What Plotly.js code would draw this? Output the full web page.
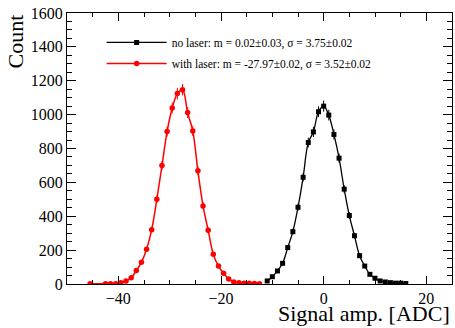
<!DOCTYPE html>
<html>
<head>
<meta charset="utf-8">
<script src="https://cdn.plot.ly/plotly-3.0.1.min.js"></script>
<style>
  html, body { margin: 0; padding: 0; background: #fff; }
  #chart { width: 455px; height: 328px; }
</style>
</head>
<body>
<div id="chart"></div>
<script>
// ---- Data (bin centres in ADC, counts) ----
const noLaserX = [-11, -10, -9, -8, -7, -6, -5, -4, -3, -2, -1, 0, 1, 2, 3, 4, 5, 6, 7, 8, 9, 10, 11, 12, 13, 14, 15, 16];
const noLaserY = [18, 43, 77, 122, 215, 309, 453, 630, 835, 898, 1017, 1050, 997, 883, 743, 560, 404, 285, 167, 106, 57, 34, 18, 12, 8, 5, 5, 3];

const laserX = [-45.5, -42.5, -41.5, -40.5, -39.5, -38.5, -37.5, -36.5, -35.5, -34.5, -33.5, -32.5, -31.5, -30.5, -29.5, -28.5, -27.5, -26.5, -25.5, -24.5, -23.5, -22.5, -21.5, -20.5, -19.5, -18.5, -17.5, -16.5, -15.5, -14.5, -13.5, -12.5];
const laserY = [1, 1, 1, 2, 8, 18, 37, 79, 128, 205, 321, 500, 699, 900, 1039, 1124, 1147, 1012, 904, 668, 461, 317, 175, 106, 63, 30, 12, 8, 5, 4, 3, 2];

const noLaserLabel = "no laser: m = 0.02±0.03, σ = 3.75±0.02";
const laserLabel = "with laser: m = -27.97±0.02, σ = 3.52±0.02";

const xTitle = "Signal amp. [ADC]";
const yTitle = "Count";

const serif = "Liberation Serif";

const traces = [
  {
    x: noLaserX, y: noLaserY,
    type: "scatter", mode: "lines+markers",
    name: noLaserLabel, legendgroup: "a",
    line: { color: "#000000", width: 1.3, shape: "spline", smoothing: 1 },
    marker: { color: "#000000", symbol: "square", size: 5 },
    error_y: { type: "sqrt", visible: true, color: "#000000", thickness: 1, width: 0 }
  },
  {
    x: laserX, y: laserY,
    type: "scatter", mode: "lines+markers",
    name: laserLabel, legendgroup: "b",
    line: { color: "#ff0000", width: 1.5, shape: "spline", smoothing: 1 },
    marker: { color: "#ff0000", symbol: "circle", size: 5.5 },
    error_y: { type: "sqrt", visible: true, color: "#ff0000", thickness: 1, width: 0 }
  }
];

const axisCommon = {
  showline: true, linecolor: "#000", linewidth: 1, mirror: "allticks",
  ticks: "inside", tickcolor: "#000", tickwidth: 1,
  showgrid: false, zeroline: false,
  tickfont: { family: serif, size: 16, color: "#000" }
};

const layout = {
  width: 455, height: 328,
  font: { family: serif, color: "#000" },
  margin: { l: 67, r: 3, t: 13, b: 44, pad: 0 },
  paper_bgcolor: "#fff", plot_bgcolor: "#fff",
  showlegend: true,
  legend: {
    x: 0.09, y: 0.945, xanchor: "left", yanchor: "top",
    bgcolor: "rgba(255,255,255,0)", borderwidth: 0,
    font: { family: serif, size: 11.5, color: "#000" },
    traceorder: "grouped", tracegroupgap: 2,
    itemwidth: 60
  },
  xaxis: Object.assign({}, axisCommon, {
    range: [-50, 25], dtick: 20, tick0: 0, ticklen: 8,
    minor: { dtick: 5, tick0: 0, ticks: "inside", ticklen: 4, tickcolor: "#000", showgrid: false }
  }),
  yaxis: Object.assign({}, axisCommon, {
    range: [0, 1600], dtick: 200, tick0: 0, ticklen: 9,
    minor: { dtick: 50, tick0: 0, ticks: "inside", ticklen: 5, tickcolor: "#000", showgrid: false }
  }),
  annotations: [
    {
      text: xTitle, xref: "paper", yref: "paper", x: 1, y: -0.162,
      xanchor: "right", yanchor: "bottom",
      showarrow: false, font: { family: serif, size: 22, color: "#000" }
    },
    {
      text: yTitle, xref: "paper", yref: "paper", x: 0, y: 1,
      xanchor: "right", yanchor: "top", xshift: -38, yshift: 0,
      textangle: -90,
      showarrow: false, font: { family: serif, size: 22, color: "#000" }
    }
  ]
};

Plotly.newPlot("chart", traces, layout, { displayModeBar: false, staticPlot: true });
</script>
</body>
</html>
